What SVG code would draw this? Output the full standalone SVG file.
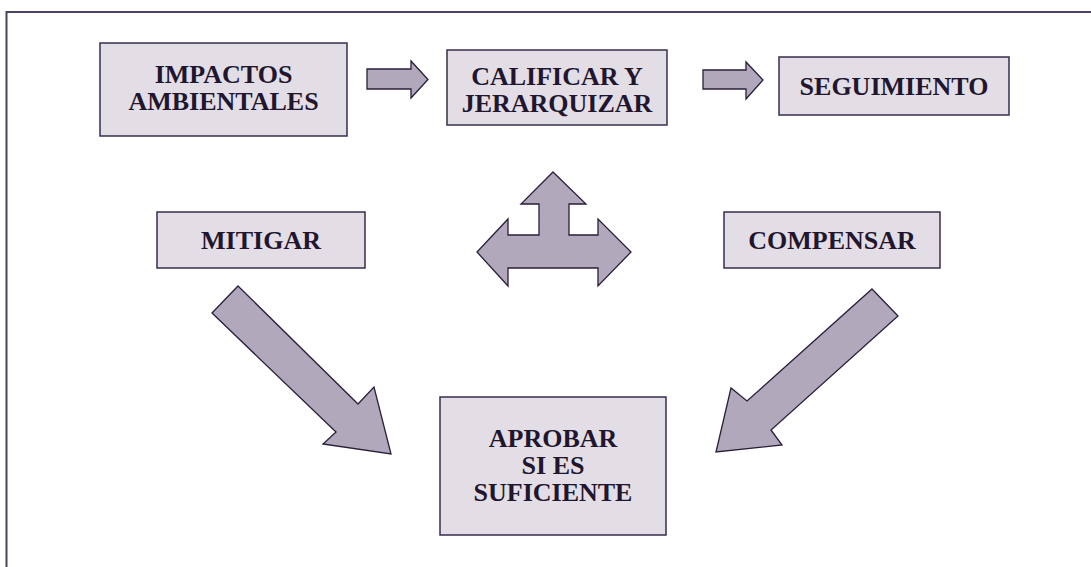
<svg xmlns="http://www.w3.org/2000/svg" width="1091" height="567" viewBox="0 0 1091 567">
<style>
.box{fill:#E3DEE6;stroke:#3A2D4C;stroke-width:1.5}
.arr{fill:#B1A8BC;stroke:#2A1E38;stroke-width:1.3;stroke-linejoin:miter}
.t{font-family:"Liberation Serif","Times New Roman",serif;font-weight:bold;font-size:26px;fill:#22152E;text-anchor:middle}
</style>
<rect x="0" y="0" width="1091" height="567" fill="#FFFFFF"/>
<path d="M6.5,570 L6.5,12 L1095,12" fill="none" stroke="#4E4262" stroke-width="2"/>
<g id="impactos">
<rect class="box" x="100" y="43" width="247" height="93"/>
<text class="t" x="223.5" y="83">IMPACTOS</text>
<text class="t" x="223.5" y="110">AMBIENTALES</text>
</g>
<g id="calificar">
<rect class="box" x="447" y="50" width="220" height="75"/>
<text class="t" x="557" y="85">CALIFICAR Y</text>
<text class="t" x="557" y="112">JERARQUIZAR</text>
</g>
<g id="seguimiento">
<rect class="box" x="779" y="57" width="230" height="58"/>
<text class="t" x="894" y="95">SEGUIMIENTO</text>
</g>
<g id="mitigar">
<rect class="box" x="157" y="212" width="208" height="56"/>
<text class="t" x="261" y="249">MITIGAR</text>
</g>
<g id="compensar">
<rect class="box" x="724" y="212" width="216" height="56"/>
<text class="t" x="832" y="249">COMPENSAR</text>
</g>
<g id="aprobar">
<rect class="box" x="440" y="397" width="226" height="138"/>
<text class="t" x="553" y="447">APROBAR</text>
<text class="t" x="553" y="474">SI ES</text>
<text class="t" x="553" y="501">SUFICIENTE</text>
</g>
<g id="connectors">
<polygon class="arr" points="367,69 411,69 411,61 428,79.5 411,98 411,89 367,89"/>
<polygon class="arr" points="703,70 746,70 746,62 763,80 746,99 746,89 703,89"/>
<polygon class="arr" points="553,172 586,204 569,204 569,235 598,235 598,219 631,252 598,286 598,268 508,268 508,286 477,252 508,219 508,235 539,235 539,204 521,204"/>
<polygon class="arr" points="238,286 358,404 374,387 391,454 323,444 336,432 212,313"/>
<polygon class="arr" points="872,289 898,316 771,430 782,445 716,452 731,388 747,401"/>
</g>
</svg>
